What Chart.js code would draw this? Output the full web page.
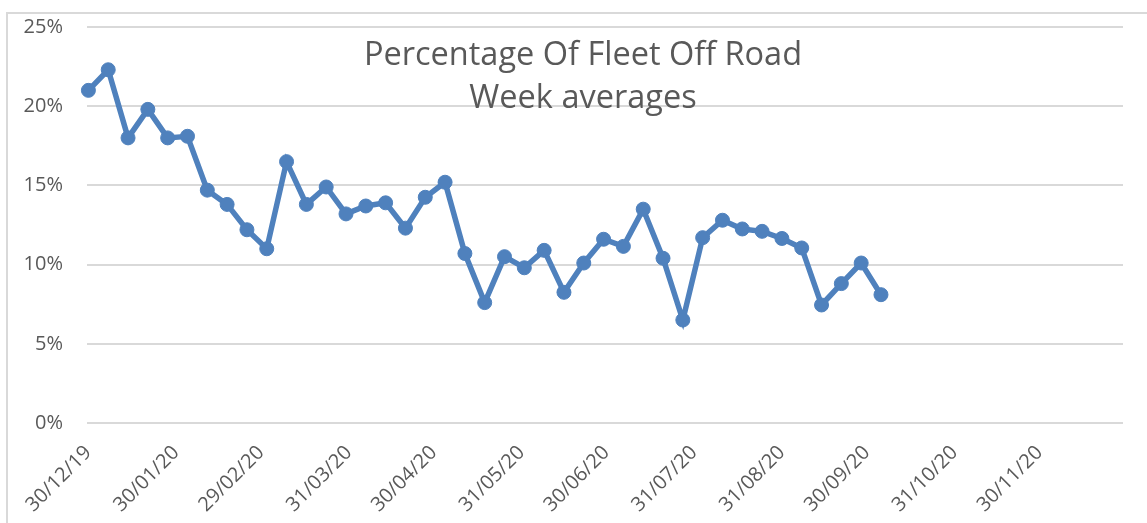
<!DOCTYPE html>
<html>
<head>
<meta charset="utf-8">
<title>Percentage Of Fleet Off Road</title>
<script src="https://cdn.jsdelivr.net/npm/chart.js@4.4.1/dist/chart.umd.min.js"></script>
<style>
  html, body { margin: 0; padding: 0; background: #fff; overflow: hidden; }
  #wrap { position: relative; width: 1147px; height: 523px; }
  #frame { position: absolute; left: 6px; top: 12px; width: 1160px; height: 540px; border: 2px solid #d9d9d9; box-sizing: border-box; }
  canvas { position: absolute; left: 0; top: 0; }
</style>
</head>
<body>
<div id="wrap">
  <div id="frame"></div>
  <canvas id="grafico" width="1147" height="523"></canvas>
</div>
<script>
// semanas (lunes) y porcentaje medio de flota fuera de servicio
const semanas = [
  '30/12/19', '06/01/20', '13/01/20', '20/01/20', '27/01/20', '03/02/20', '10/02/20',
  '17/02/20', '24/02/20', '02/03/20', '09/03/20', '16/03/20', '23/03/20', '30/03/20',
  '06/04/20', '13/04/20', '20/04/20', '27/04/20', '04/05/20', '11/05/20', '18/05/20',
  '25/05/20', '01/06/20', '08/06/20', '15/06/20', '22/06/20', '29/06/20', '06/07/20',
  '13/07/20', '20/07/20', '27/07/20', '03/08/20', '10/08/20', '17/08/20', '24/08/20',
  '31/08/20', '07/09/20', '14/09/20', '21/09/20', '28/09/20', '05/10/20'
];
const porcentajes = [
  21.0, 22.3, 18.0, 19.8, 18.0, 18.1, 14.7,
  13.8, 12.2, 11.0, 16.5, 13.8, 14.9, 13.2,
  13.7, 13.9, 12.3, 14.25, 15.2, 10.7, 7.6,
  10.5, 9.8, 10.9, 8.25, 10.1, 11.6, 11.15,
  13.5, 10.4, 6.5, 11.7, 12.8, 12.25, 12.1,
  11.65, 11.05, 7.45, 8.8, 10.1, 8.1
];
const etiquetasEje = [
  '30/12/19', '30/01/20', '29/02/20', '31/03/20', '30/04/20', '31/05/20',
  '30/06/20', '31/07/20', '31/08/20', '30/09/20', '31/10/20', '30/11/20'
];
const ticksY = [0, 5, 10, 15, 20, 25];
const inicioEje = '30/12/19';
const finEje = '29/12/20';
const titulo = ['Percentage Of Fleet Off Road', 'Week averages'];

// dd/mm/yy -> dias desde el inicio del eje
function dia(txt) {
  const p = txt.split('/');
  const t = Date.UTC(2000 + parseInt(p[2]), parseInt(p[1]) - 1, parseInt(p[0]));
  const p0 = inicioEje.split('/');
  const t0 = Date.UTC(2000 + parseInt(p0[2]), parseInt(p0[1]) - 1, parseInt(p0[0]));
  return Math.round((t - t0) / 86400000);
}

const puntos = semanas.map((s, i) => ({ x: dia(s) + 0.5, y: porcentajes[i] }));
const ticksX = etiquetasEje.map(e => dia(e) + 0.5);

const fuente = "'Open Sans', 'Noto Sans', sans-serif";
const gris = '#595959';

const tituloPlugin = {
  id: 'tituloDentro',
  afterDraw(chart) {
    const ctx = chart.ctx;
    ctx.save();
    ctx.fillStyle = gris;
    ctx.font = "32.5px " + fuente;
    ctx.textAlign = 'center';
    ctx.textBaseline = 'alphabetic';
    ctx.fillText(titulo[0], 583, 65);
    ctx.fillText(titulo[1], 583, 108);
    ctx.restore();
  }
};

const ctx = document.getElementById('grafico').getContext('2d');
new Chart(ctx, {
  type: 'line',
  data: {
    datasets: [{
      label: titulo[0],
      data: puntos,
      borderColor: '#4f81bd',
      backgroundColor: '#4f81bd',
      borderWidth: 5.5,
      pointRadius: 7,
      pointBorderWidth: 1,
      pointBackgroundColor: '#4f81bd',
      pointBorderColor: '#4f81bd',
      clip: false,
      tension: 0
    }]
  },
  options: {
    responsive: false,
    animation: false,
    layout: { padding: { top: 27, right: 24, left: 0, bottom: 0 } },
    plugins: {
      legend: { display: false },
      title: { display: false },
      tooltip: { enabled: false }
    },
    scales: {
      x: {
        type: 'linear',
        min: 0,
        max: dia(finEje) + 1,
        grid: { display: false },
        border: { display: false },
        afterBuildTicks: (scale) => { scale.ticks = ticksX.map(v => ({ value: v })); },
        afterFit: (scale) => { scale.height = 100; },
        ticks: {
          autoSkip: false,
          maxRotation: 45,
          minRotation: 45,
          padding: 10,
          color: gris,
          font: { family: fuente, size: 20 },
          callback: (v, i) => etiquetasEje[i]
        }
      },
      y: {
        min: ticksY[0],
        max: ticksY[ticksY.length - 1],
        afterBuildTicks: (scale) => { scale.ticks = ticksY.map(v => ({ value: v })); },
        afterFit: (scale) => {
          scale.width = 87;
          scale.paddingTop = 0;
          scale.paddingBottom = 0;
        },
        grid: { color: '#d9d9d9', lineWidth: 2, drawTicks: false },
        border: { display: false },
        ticks: {
          padding: 24,
          color: gris,
          font: { family: fuente, size: 20 },
          callback: (v) => v + '%'
        }
      }
    }
  },
  plugins: [tituloPlugin]
});
</script>
</body>
</html>
